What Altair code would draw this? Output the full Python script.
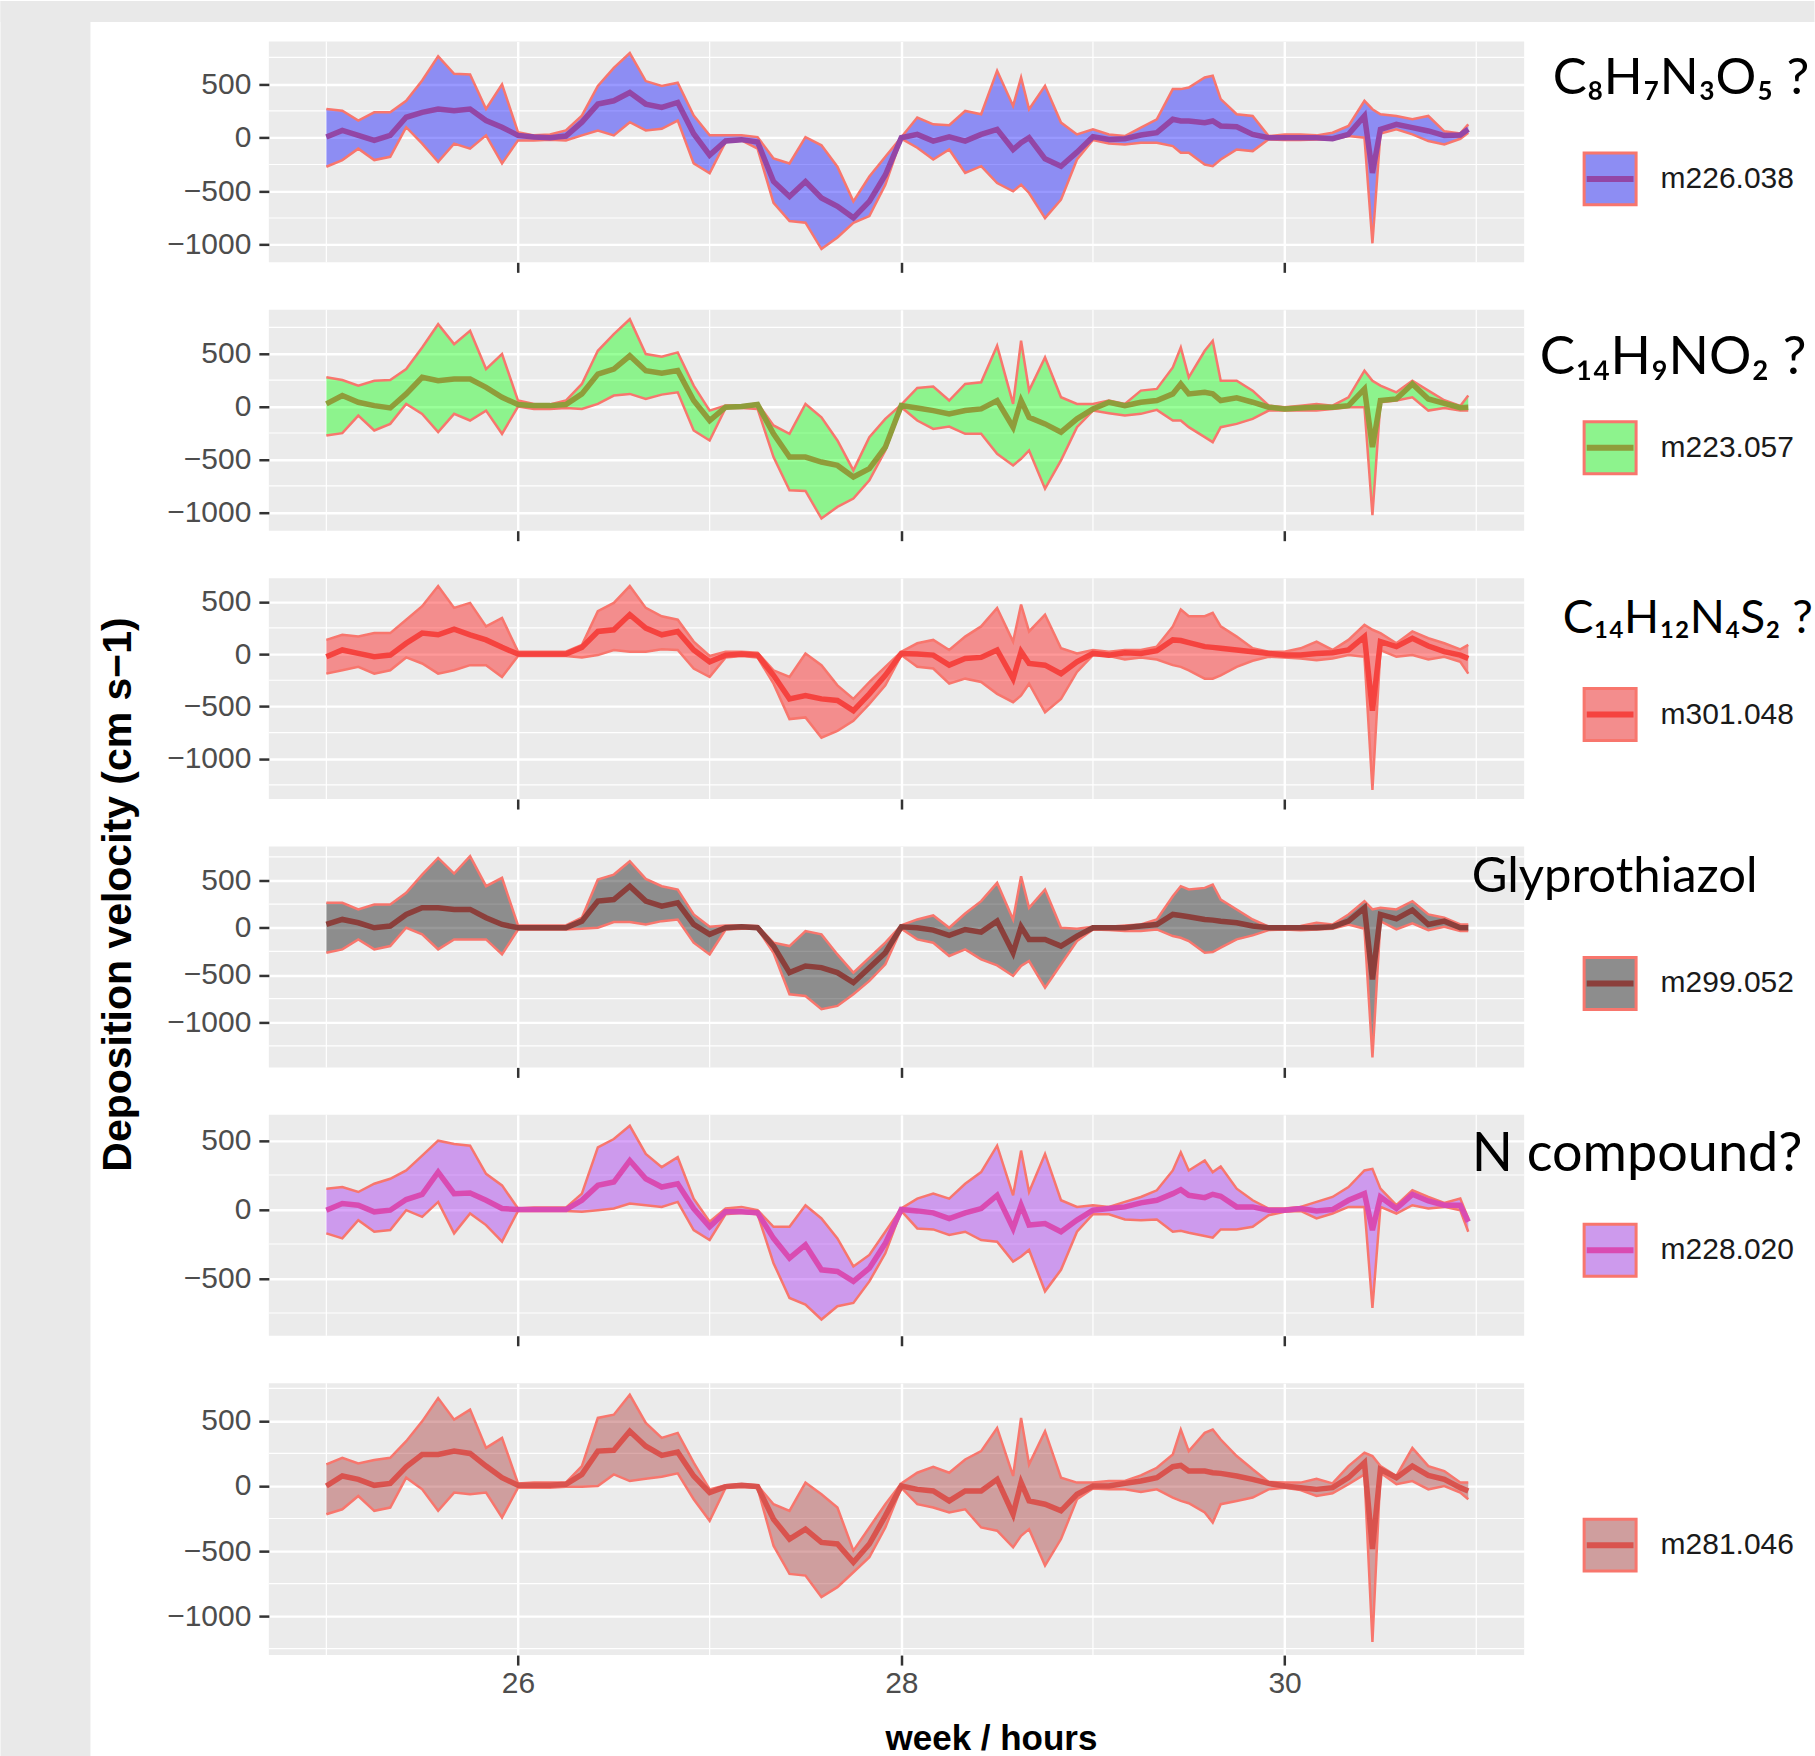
import altair as alt
import pandas as pd

# ---------------- data ----------------
hours = [0, 2, 4, 6, 8, 10, 12, 14, 16, 18, 20, 22, 24, 26, 28, 30, 32, 34, 36, 38,
         40, 42, 44, 46, 48, 50, 52, 54, 56, 58, 60, 62, 64, 66, 68, 70, 72, 74, 76, 78,
         80, 82, 84, 86, 87, 88, 90, 92, 94, 96, 98, 100, 102, 104, 106, 107, 108, 110, 111, 112,
         114, 116, 118, 120, 122, 124, 126, 128, 130, 131, 132, 134, 136, 138, 140, 142, 143]

p1_hi = [268, 252, 160, 237, 237, 345, 535, 760, 597, 591, 268, 498, 52, 22, 31, 68, 206, 483, 652, 791,
         529, 483, 514, 206, 22, 22, 22, 6, -194, -240, 6, -71, -271, -594, -363, -178, 5, 188, 125, 116,
         250, 219, 626, 297, 563, 266, 485, 141, 31, 78, 31, 16, 94, 172, 454, 454, 469, 563, 579, 360,
         219, 203, 15, 31, 31, 22, 47, 110, 344, 266, 219, 203, 172, 203, 60, 40, 125]
p1_lo = [-271, -209, -102, -209, -178, 98, -55, -225, -55, -102, 22, -240, -25, -25, -18, -25, 22, 68, 22, 145,
         68, 83, 160, -240, -332, -40, -25, -102, -609, -778, -794, -1040, -932, -794, -732, -440, -9, -94, -203, -110,
         -329, -266, -423, -501, -438, -516, -751, -579, -203, -22, -53, -63, -47, -47, -78, -141, -141, -250, -266, -203,
         -110, -125, -15, -22, -22, -16, -16, 16, 0, -986, 40, 78, 31, -31, -63, -10, 47]
p1_mid = [6, 68, 22, -25, 22, 191, 237, 268, 252, 268, 160, 98, 22, 6, 0, 15, 145, 314, 345, 422,
          314, 283, 329, 37, -163, -31, -18, -40, -409, -548, -409, -563, -640, -748, -594, -348, 0, 31, -31, 9,
          -31, 31, 78, -110, -47, 0, -197, -266, -135, 9, -16, -9, 25, 47, 172, 156, 156, 141, 156, 110,
          103, 31, 0, 0, 0, 0, -9, 31, 203, -329, 78, 125, 94, 63, 20, 25, 78]

p2_hi = [277, 252, 198, 245, 252, 355, 560, 780, 591, 717, 355, 497, 57, 25, 19, 57, 214, 528, 686, 827,
         497, 472, 513, 198, -38, 9, 9, 31, -179, -258, 25, -101, -321, -604, -289, -116, 19, 176, 189, 57,
         214, 230, 575, 25, 623, 151, 465, 88, 25, 25, 57, 25, 151, 167, 371, 560, 277, 528, 623, 245,
         245, 151, 10, -6, 9, 25, 9, 88, 340, 245, 198, 135, 245, 151, 60, 5, 104]
p2_lo = [-274, -252, -85, -226, -164, 25, -69, -242, -69, -132, -38, -258, 0, -22, -22, -13, -22, 25, 104, 120,
         72, 113, 135, -226, -321, -13, -13, -22, -478, -793, -799, -1060, -950, -871, -698, -415, -6, -132, -211, -189,
         -258, -258, -447, -557, -494, -415, -777, -509, -195, -38, -63, -85, -69, -31, -132, -132, -195, -289, -337, -195,
         -164, -116, -38, -38, -38, -38, -22, -6, -6, -1028, 41, 57, 88, -38, -13, -38, -38]
p2_mid = [25, 104, 41, 9, -13, 120, 277, 245, 261, 261, 182, 88, 19, 9, 9, 19, 120, 308, 355, 481,
          340, 315, 340, 57, -132, -6, 0, 19, -258, -478, -478, -525, -557, -667, -588, -384, 9, -13, -38, -69,
          -38, -22, 57, -195, 57, -101, -164, -242, -116, -22, 41, 9, 41, 57, 120, 214, 120, 135, 120, 57,
          82, 41, -6, -22, -13, -6, -6, 9, 167, -384, 57, 72, 214, 72, 30, -10, -6]

p3_hi = [135, 184, 167, 200, 200, 328, 457, 650, 441, 489, 264, 345, 23, 23, 23, 23, 87, 409, 489, 650,
         441, 361, 328, 119, -19, 23, 23, 13, -155, -219, 6, -106, -299, -428, -267, -122, 23, 103, 135, 39,
         167, 264, 441, 119, 473, 216, 377, 55, 6, 39, 23, 39, 39, 71, 264, 425, 361, 361, 393, 264,
         167, 55, 23, 23, 55, 119, 39, 135, 280, 232, 200, 103, 216, 151, 103, 45, 87]
p3_lo = [-187, -155, -122, -187, -155, -32, -90, -187, -155, -106, -106, -219, -19, -19, -19, -19, -32, -10, 39, 23,
         23, 45, 39, -138, -219, -32, -19, -32, -283, -621, -605, -799, -734, -638, -477, -299, -10, -122, -138, -283,
         -235, -267, -380, -460, -396, -283, -557, -428, -171, -10, -19, -52, -32, -52, -106, -122, -155, -235, -235, -203,
         -122, -64, -26, -32, -42, -58, -42, -10, -26, -1298, 39, -26, -10, -52, -26, -74, -187]
p3_mid = [-26, 39, 6, -26, -10, 103, 200, 184, 238, 184, 135, 64, 0, 0, 0, 0, 64, 216, 232, 377,
          248, 184, 216, 39, -74, -10, 0, -10, -203, -428, -396, -428, -444, -541, -380, -203, 6, 0, -10, -106,
          -42, -32, 39, -235, 23, -90, -106, -187, -74, 6, -10, 13, 6, 32, 135, 129, 109, 71, 64, 55,
          39, 23, 6, -10, -10, 6, 13, 39, 167, -541, 119, 71, 151, 77, 23, -10, -42]

p4_hi = [264, 264, 194, 246, 246, 370, 563, 739, 574, 757, 440, 528, 25, 25, 25, 25, 106, 510, 563, 704,
         517, 440, 405, 141, 11, 25, 25, 18, -158, -194, -35, -70, -282, -475, -317, -158, 25, 88, 130, 0,
         151, 282, 475, 88, 546, 211, 405, 0, -11, 11, 11, 25, 35, 88, 334, 440, 405, 422, 458, 299,
         194, 88, 11, 11, 18, 53, 35, 141, 282, 194, 211, 194, 282, 141, 106, 35, 35]
p4_lo = [-264, -229, -123, -229, -194, 0, -70, -229, -123, -123, -123, -282, -18, -18, -18, -18, -11, 0, 60, 60,
         35, 70, 88, -158, -282, -18, -11, -11, -264, -704, -722, -862, -827, -704, -563, -387, -11, -123, -158, -299,
         -229, -334, -398, -510, -405, -352, -634, -387, -141, -18, -25, -35, -35, -18, -88, -106, -141, -264, -257, -211,
         -123, -81, -25, -18, -25, -18, -11, 35, -11, -1373, 70, -18, 46, -25, 11, -35, -35]
p4_mid = [35, 88, 53, 0, 18, 141, 211, 211, 194, 194, 106, 35, 0, 0, 0, 0, 70, 282, 299, 440,
          282, 229, 264, 35, -70, 0, 11, 0, -194, -475, -405, -422, -475, -581, -422, -264, 11, 0, -25, -81,
          -18, -46, 70, -264, 11, -123, -123, -194, -88, 0, 0, 0, 18, 35, 141, 130, 116, 88, 81, 70,
          53, 18, 0, 0, 0, 0, 11, 70, 211, -546, 141, 95, 187, 35, 70, 0, 0]

p5_hi = [151, 163, 127, 187, 223, 283, 391, 499, 475, 463, 259, 175, 7, 14, 14, 14, 115, 451, 511, 607,
         403, 307, 379, 79, -89, 7, 19, -5, -125, -125, 31, -65, -209, -413, -329, -161, 7, 79, 115, 79,
         187, 271, 463, 103, 427, 127, 403, 67, 19, 31, 19, 55, 91, 139, 283, 415, 283, 355, 271, 312,
         151, 67, 7, 7, 19, 55, 91, 163, 283, 295, 151, 31, 139, 91, 48, 79, -65]
p5_lo = [-173, -209, -77, -161, -149, -5, -53, 55, -173, -29, -113, -233, -10, -10, -10, -10, -17, -5, 7, 43,
         31, 19, 55, -149, -221, -34, -24, -34, -389, -641, -689, -797, -701, -677, -521, -317, -10, -137, -144, -185,
         -161, -221, -233, -377, -341, -293, -593, -437, -161, -34, -34, -72, -77, -72, -161, -154, -168, -192, -204, -144,
         -144, -125, -41, -17, -10, -65, -29, 19, 19, -713, 19, -29, 31, 7, 19, -5, -161]
p5_mid = [-5, 43, 31, -17, -5, 72, 110, 271, 115, 120, 67, 7, 0, 0, 0, 0, 67, 175, 199, 355,
          223, 163, 187, 7, -125, -17, -17, -24, -209, -353, -257, -437, -449, -521, -425, -245, 0, -10, -24, -65,
          -24, 7, 103, -137, 31, -113, -101, -161, -77, -5, 7, 19, 48, 67, 115, 144, 103, 86, 110, 96,
          19, 19, -5, -5, 7, -10, 0, 67, 115, -149, 91, 7, 110, 62, 31, 31, -89]

p6_hi = [166, 217, 173, 199, 217, 344, 497, 676, 510, 587, 293, 370, 20, 26, 26, 26, 153, 523, 548, 701,
         485, 370, 408, 179, -26, 5, 13, 5, -140, -191, 26, -64, -166, -497, -319, -140, 20, 102, 148, 102,
         204, 268, 446, 77, 523, 166, 421, 64, 26, 26, 38, 38, 82, 140, 242, 434, 268, 408, 434, 357,
         230, 128, 31, 26, 26, 56, 20, 153, 255, 230, 153, 77, 293, 153, 115, 26, 26]
p6_lo = [-217, -179, -77, -191, -166, 64, -26, -191, -51, -64, -51, -242, -13, -13, -13, -5, -5, 0, 89, 38,
         56, 71, 97, -102, -268, -13, -8, -15, -459, -676, -689, -854, -778, -663, -548, -319, -13, -140, -166, -204,
         -179, -319, -344, -472, -383, -332, -612, -408, -102, -20, -26, -26, -46, -26, -89, -115, -133, -204, -281, -140,
         -115, -89, -26, -13, -31, -77, -56, 13, 89, -1199, 102, 13, 38, -26, 0, -51, -102]
p6_mid = [0, 77, 51, 5, 20, 148, 242, 242, 268, 250, 153, 64, 5, 5, 5, 13, 89, 268, 275, 421,
          306, 235, 260, 77, -51, -5, 5, -5, -255, -408, -332, -434, -446, -587, -446, -230, 0, -26, -38, -115,
          -38, -38, 51, -217, 26, -115, -140, -191, -64, 0, 0, 20, 38, 64, 148, 158, 115, 115, 102, 97,
          77, 51, 20, 0, -13, -26, -13, 64, 179, -485, 128, 64, 153, 82, 51, -13, -38]

highs = [p1_hi, p2_hi, p3_hi, p4_hi, p5_hi, p6_hi]
lows = [p1_lo, p2_lo, p3_lo, p4_lo, p5_lo, p6_lo]
mids = [p1_mid, p2_mid, p3_mid, p4_mid, p5_mid, p6_mid]

keys = ["m226.038", "m223.057", "m301.048", "m299.052", "m228.020", "m281.046"]
notes = ["C₈H₇N₃O₅ ?", "C₁₄H₉NO₂ ?", "C₁₄H₁₂N₄S₂ ?", "Glyprothiazol", "N compound?", ""]
y_title = "Deposition velocity (cm s−1)"
x_title = "week / hours"

x_domain = [24.70, 31.25]
x_major = [26, 28, 30]
x_minor = [25, 27, 29, 31]
y_domains = [[-1164, 899], [-1175, 916], [-1385, 725], [-1478, 860], [-915, 686], [-1300, 790]]
y_major = [[-1000, -500, 0, 500]] * 4 + [[-500, 0, 500], [-1000, -500, 0, 500]]
y_minor = [[-750, -250, 250, 750], [-750, -250, 250, 750], [-1250, -750, -250, 250],
           [-1250, -750, -250, 250, 750], [-750, -250, 250], [-1250, -750, -250, 250, 750]]

# ---------------- styles / layout ----------------
fills = ["#0000FF", "#00FF00", "#FF0000", "#000000", "#A020F0", "#A52A2A"]
key_fills = ["#8D8DF3", "#8DF38D", "#F38D8D", "#8D8D8D", "#CD9AED", "#CF9E9E"]
line_cols = ["#9346A6", "#8F9D3A", "#F5433F", "#8B3F3B", "#D94BB2", "#D9534E"]
OUTLINE = "#F8766D"
BG_GRAY = "#E9E9E9"
PANEL_BG = "#EBEBEB"
FONT = "Liberation Sans"

PANEL_W = 1256
PANEL_H = [221, 221, 221, 221, 221, 272]
GAP = 47.5
LEG_X = 1314.5
LEG_Y = [110, 110.5, 109, 109.5, 108, 134.5]
NOTE_X = [1284.5, 1271.5, 1294.5, 1203.5, 1203.5, 0]
NOTE_Y = [52.5, 64, 54.5, 46, 56.5, 0]
NOTE_SIZE = [51, 53, 46, 49, 54, 10]
NOTE_LIMIT = [264, 276, 254, 340, 343, 10]


def build_panel(i):
    df = pd.DataFrame({"week": [25 + h / 24 for h in hours],
                       "lo": lows[i], "hi": highs[i], "mid": mids[i]})
    last = i == 5
    xs = alt.Scale(domain=x_domain, nice=False, zero=False)
    ys = alt.Scale(domain=y_domains[i], nice=False, zero=False)
    xkw = dict(values=x_major, grid=True, gridColor="white", gridWidth=2.4, domain=False,
               tickSize=10, tickWidth=2.5, tickColor="#333333", labels=last)
    if last:
        xkw.update(title=x_title, labelFont=FONT, labelFontSize=30, labelColor="#4D4D4D",
                   labelPadding=3, titleFont=FONT, titleFontSize=35, titleFontWeight="bold",
                   titleColor="black", titleX=722.5, titleY=94, titleBaseline="alphabetic",
                   titleAlign="center")
        xaxis = alt.Axis(**xkw)
    else:
        xaxis = alt.Axis(title=None, **xkw)
    yaxis = alt.Axis(title=None, values=y_major[i], format="d", grid=True, gridColor="white",
                     gridWidth=2.4, domain=False, tickSize=10, tickWidth=2.5, tickColor="#333333",
                     labelFont=FONT, labelFontSize=30, labelColor="#4D4D4D", labelPadding=8)

    def X(f):
        return alt.X(f"{f}:Q", scale=xs, axis=xaxis)

    def Y(f):
        return alt.Y(f"{f}:Q", scale=ys, axis=yaxis)

    minor_y = alt.Chart(pd.DataFrame({"v": y_minor[i]})).mark_rule(
        color="white", strokeWidth=1.2).encode(y=Y("v"))
    minor_x = alt.Chart(pd.DataFrame({"v": x_minor})).mark_rule(
        color="white", strokeWidth=1.2).encode(x=X("v"))
    base = alt.Chart(df)
    area = base.mark_area(fill=fills[i], fillOpacity=0.4).encode(
        x=X("week"), y=Y("lo"), y2=alt.Y2("hi"))
    lo_line = base.mark_line(color=OUTLINE, strokeWidth=2.5).encode(x=X("week"), y=Y("lo"))
    hi_line = base.mark_line(color=OUTLINE, strokeWidth=2.5).encode(x=X("week"), y=Y("hi"))
    mid_line = base.mark_line(color=line_cols[i], strokeWidth=5.5).encode(x=X("week"), y=Y("mid"))

    key_df = pd.DataFrame({"key_fill": [keys[i]], "key_line": [keys[i]]})
    common = dict(orient="none", title=None, padding=0, labelFont=FONT, labelFontSize=30,
                  labelColor="#1A1A1A", labelLimit=300, symbolSize=2704, symbolOpacity=1)
    fill_key = alt.Chart(key_df).mark_square(opacity=0, stroke=OUTLINE, strokeWidth=3).encode(
        fill=alt.Fill("key_fill:N", scale=alt.Scale(range=[key_fills[i]]),
                      legend=alt.Legend(legendX=LEG_X, legendY=LEG_Y[i], symbolType="square",
                                        symbolStrokeColor=OUTLINE, symbolStrokeWidth=3,
                                        labelOffset=23, **common)))
    line_key = alt.Chart(key_df).mark_point(opacity=0, filled=False).encode(
        stroke=alt.Stroke("key_line:N", scale=alt.Scale(range=[line_cols[i]]),
                          legend=alt.Legend(legendX=LEG_X - 1.5, legendY=LEG_Y[i] - 1.5,
                                            symbolType="M-0.9,0H0.9", symbolStrokeWidth=6,
                                            labelOpacity=0, labelOffset=20, **common)))
    layers = [minor_y, minor_x, area, lo_line, hi_line, mid_line, fill_key, line_key]

    if notes[i]:
        layers.append(alt.Chart(pd.DataFrame({"t": [notes[i]]})).mark_text(
            align="left", baseline="alphabetic", font="Lato", fontSize=NOTE_SIZE[i],
            color="black", limit=NOTE_LIMIT[i], ellipsis=" ").encode(
            text="t:N", x=alt.value(NOTE_X[i]), y=alt.value(NOTE_Y[i])))

    if i == 0:
        sdf = pd.DataFrame({"s": [0]})
        layers.append(alt.Chart(sdf).mark_rect(color=BG_GRAY).encode(
            x=alt.value(-268.5), x2=alt.value(-178.5), y=alt.value(-40.5), y2=alt.value(1715.5)))
        layers.append(alt.Chart(sdf).mark_rect(color=BG_GRAY).encode(
            x=alt.value(-268.5), x2=alt.value(1546.5), y=alt.value(-40.5), y2=alt.value(-19.5)))
        layers.append(alt.Chart(pd.DataFrame({"t": [y_title]})).mark_text(
            angle=270, align="center", baseline="middle", font=FONT, fontSize=41,
            fontWeight="bold", color="black").encode(
            text="t:N", x=alt.value(-149.5), y=alt.value(853.5)))

    return alt.layer(*layers).properties(
        width=PANEL_W, height=PANEL_H[i],
        view=alt.ViewBackground(fill=PANEL_BG, strokeWidth=0))


panels = [build_panel(i) for i in range(6)]

chart = alt.vconcat(*panels, spacing=GAP, bounds="flush").resolve_scale(
    x="independent", y="independent", fill="independent", stroke="independent"
).resolve_legend(fill="independent", stroke="independent").configure_view(
    fill=PANEL_BG, strokeWidth=0
).properties(padding=0, background="white")

chart.save("out.html", embed_options={"renderer": "svg", "actions": False})
